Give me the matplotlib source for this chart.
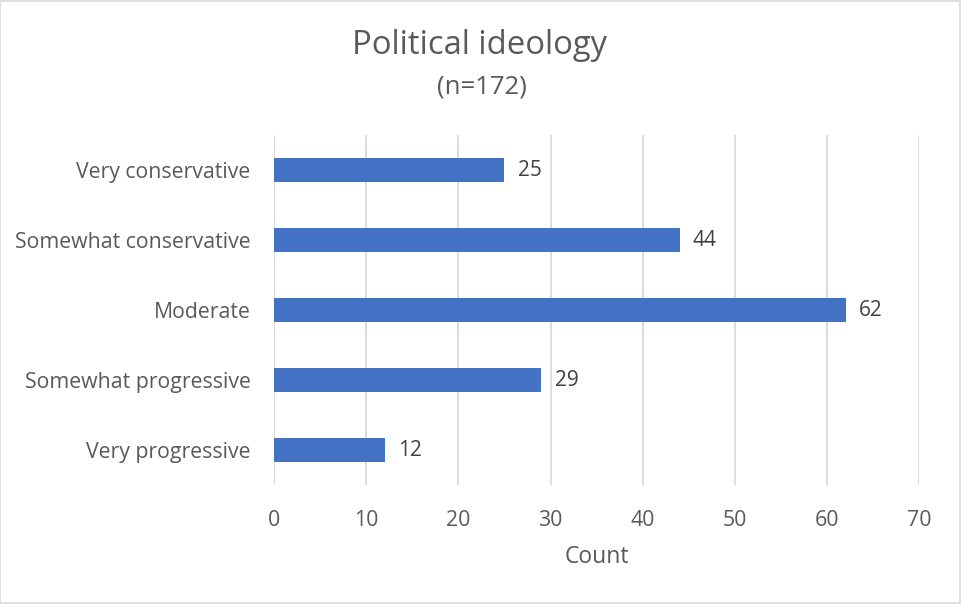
import matplotlib
matplotlib.use("Agg")
import matplotlib.pyplot as plt
from matplotlib.patches import Rectangle

plt.rcParams["font.family"] = ["Open Sans", "DejaVu Sans"]

# Data
categories = ["Very conservative", "Somewhat conservative", "Moderate",
              "Somewhat progressive", "Very progressive"]
counts = [25, 44, 62, 29, 12]
xticks = [0, 10, 20, 30, 40, 50, 60, 70]

text_color = "#595959"
bar_color = "#4472C4"

fig = plt.figure(figsize=(9.61, 6.04), dpi=100)
ax = fig.add_axes([274 / 961, 1 - 485 / 604, (919.3 - 274) / 961, 350 / 604])

ypos = list(range(len(categories)))[::-1]
ax.barh(ypos, counts, height=0.34, color=bar_color, zorder=3)
for y, v in zip(ypos, counts):
    ax.text(v + 1.45, y, str(v), va="center", ha="left", fontsize=15, color="#404040")

ax.set_xlim(0, 70)
ax.set_ylim(-0.5, 4.5)
ax.set_xticks(xticks)
ax.set_yticks(ypos)
ax.set_yticklabels(categories)
ax.tick_params(axis="both", length=0, labelsize=15.3, colors=text_color)
ax.tick_params(axis="x", pad=18)
ax.tick_params(axis="y", pad=17)
ax.grid(axis="x", color="#d9d9d9", linewidth=1.3, zorder=0)
for s in ax.spines.values():
    s.set_visible(False)
ax.set_xlabel("Count", fontsize=16.5, color=text_color, labelpad=10)

fig.text(480 / 961, 1 - 45 / 604, "Political ideology", ha="center", va="center",
         fontsize=23.6, color=text_color)
fig.text(482 / 961, 1 - 87 / 604, "(n=172)", ha="center", va="center",
         fontsize=18.5, color=text_color)

# light frame around the chart area
fig.patches.append(Rectangle((0.0005, 0.001), 0.998, 0.997, transform=fig.transFigure,
                             fill=False, edgecolor="#d9d9d9", linewidth=1.2))

fig.savefig("out.png", dpi=100)
